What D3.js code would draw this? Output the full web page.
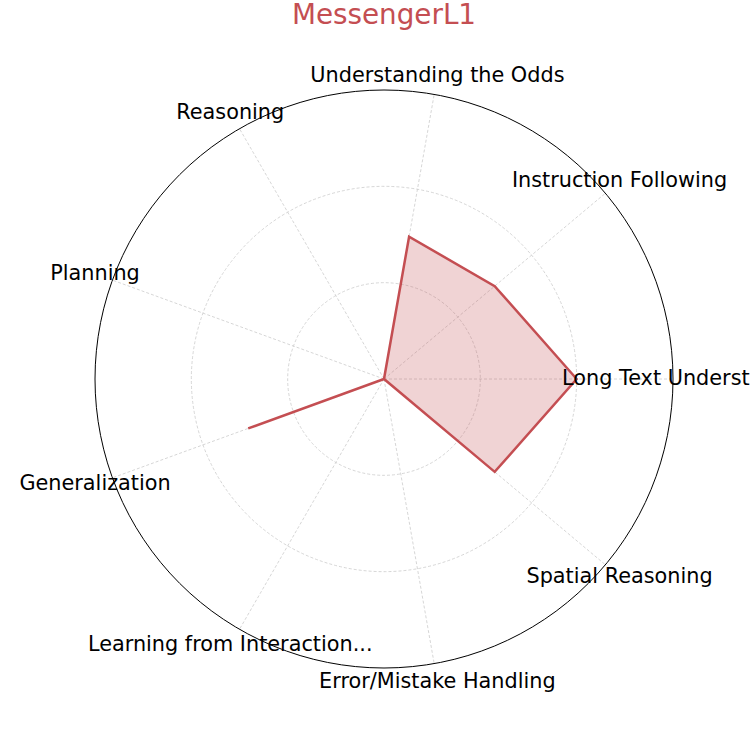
<!DOCTYPE html>
<html>
<head>
<meta charset="utf-8">
<script src="https://cdn.jsdelivr.net/npm/d3@7"></script>
<style>
  html, body { margin: 0; padding: 0; background: #fff; }
  svg { display: block; font-family: "DejaVu Sans", sans-serif; }
</style>
</head>
<body>
<svg id="chart" width="750" height="750"></svg>
<script>
const title = "MessengerL1";
const categories = [
  "Long Text Understanding",
  "Instruction Following",
  "Understanding the Odds",
  "Reasoning",
  "Planning",
  "Generalization",
  "Learning from Interaction...",
  "Error/Mistake Handling",
  "Spatial Reasoning"
];
const values = [2, 1.5, 1.5, 0, 0, 1.5, 0, 0, 1.5];
const ringTicks = [1, 2, 3];
const maxValue = 3;

const color = "#c44e52";
const svg = d3.select("#chart");
const cx = 384, cy = 379, R = 289, labelR = 307.5;

const r = d3.scaleLinear().domain([0, maxValue]).range([0, R]);
const angle = d3.scaleLinear().domain([0, categories.length]).range([0, 2 * Math.PI]);

function pt(i, v) {
  const a = angle(i);
  return [cx + r(v) * Math.cos(a), cy - r(v) * Math.sin(a)];
}

const g = svg.append("g");

// Rings
g.selectAll("circle.ring").data(ringTicks.slice(0, -1)).join("circle")
  .attr("class", "ring")
  .attr("cx", cx).attr("cy", cy).attr("r", d => r(d))
  .attr("fill", "none").attr("stroke", "#cccccc")
  .attr("stroke-width", 0.8).attr("stroke-dasharray", "3,2");

// Spokes
g.selectAll("line.spoke").data(categories).join("line")
  .attr("class", "spoke")
  .attr("x1", cx).attr("y1", cy)
  .attr("x2", (d, i) => pt(i, maxValue)[0])
  .attr("y2", (d, i) => pt(i, maxValue)[1])
  .attr("stroke", "#cccccc").attr("stroke-width", 0.8)
  .attr("stroke-dasharray", "3,2");

// Data polygon
const pts = values.map((v, i) => pt(i, v));
const line = d3.line().curve(d3.curveLinearClosed);
g.append("path")
  .attr("d", line(pts))
  .attr("fill", color).attr("fill-opacity", 0.25)
  .attr("stroke", color).attr("stroke-width", 2.5)
  .attr("stroke-linejoin", "miter");

// Labels
g.selectAll("text.label").data(categories).join("text")
  .attr("class", "label")
  .attr("x", (d, i) => cx + labelR * Math.cos(angle(i)))
  .attr("y", (d, i) => cy - labelR * Math.sin(angle(i)) + 6)
  .attr("text-anchor", "middle")
  .attr("font-size", "20.8px")
  .attr("fill", "#000")
  .text(d => d);

// Outer circle
g.append("circle")
  .attr("cx", cx).attr("cy", cy).attr("r", r(maxValue))
  .attr("fill", "none").attr("stroke", "#000").attr("stroke-width", 1);

// Title
svg.append("text")
  .attr("x", cx).attr("y", 24)
  .attr("text-anchor", "middle")
  .attr("font-size", "27.8px")
  .attr("fill", color)
  .text(title);
</script>
</body>
</html>
